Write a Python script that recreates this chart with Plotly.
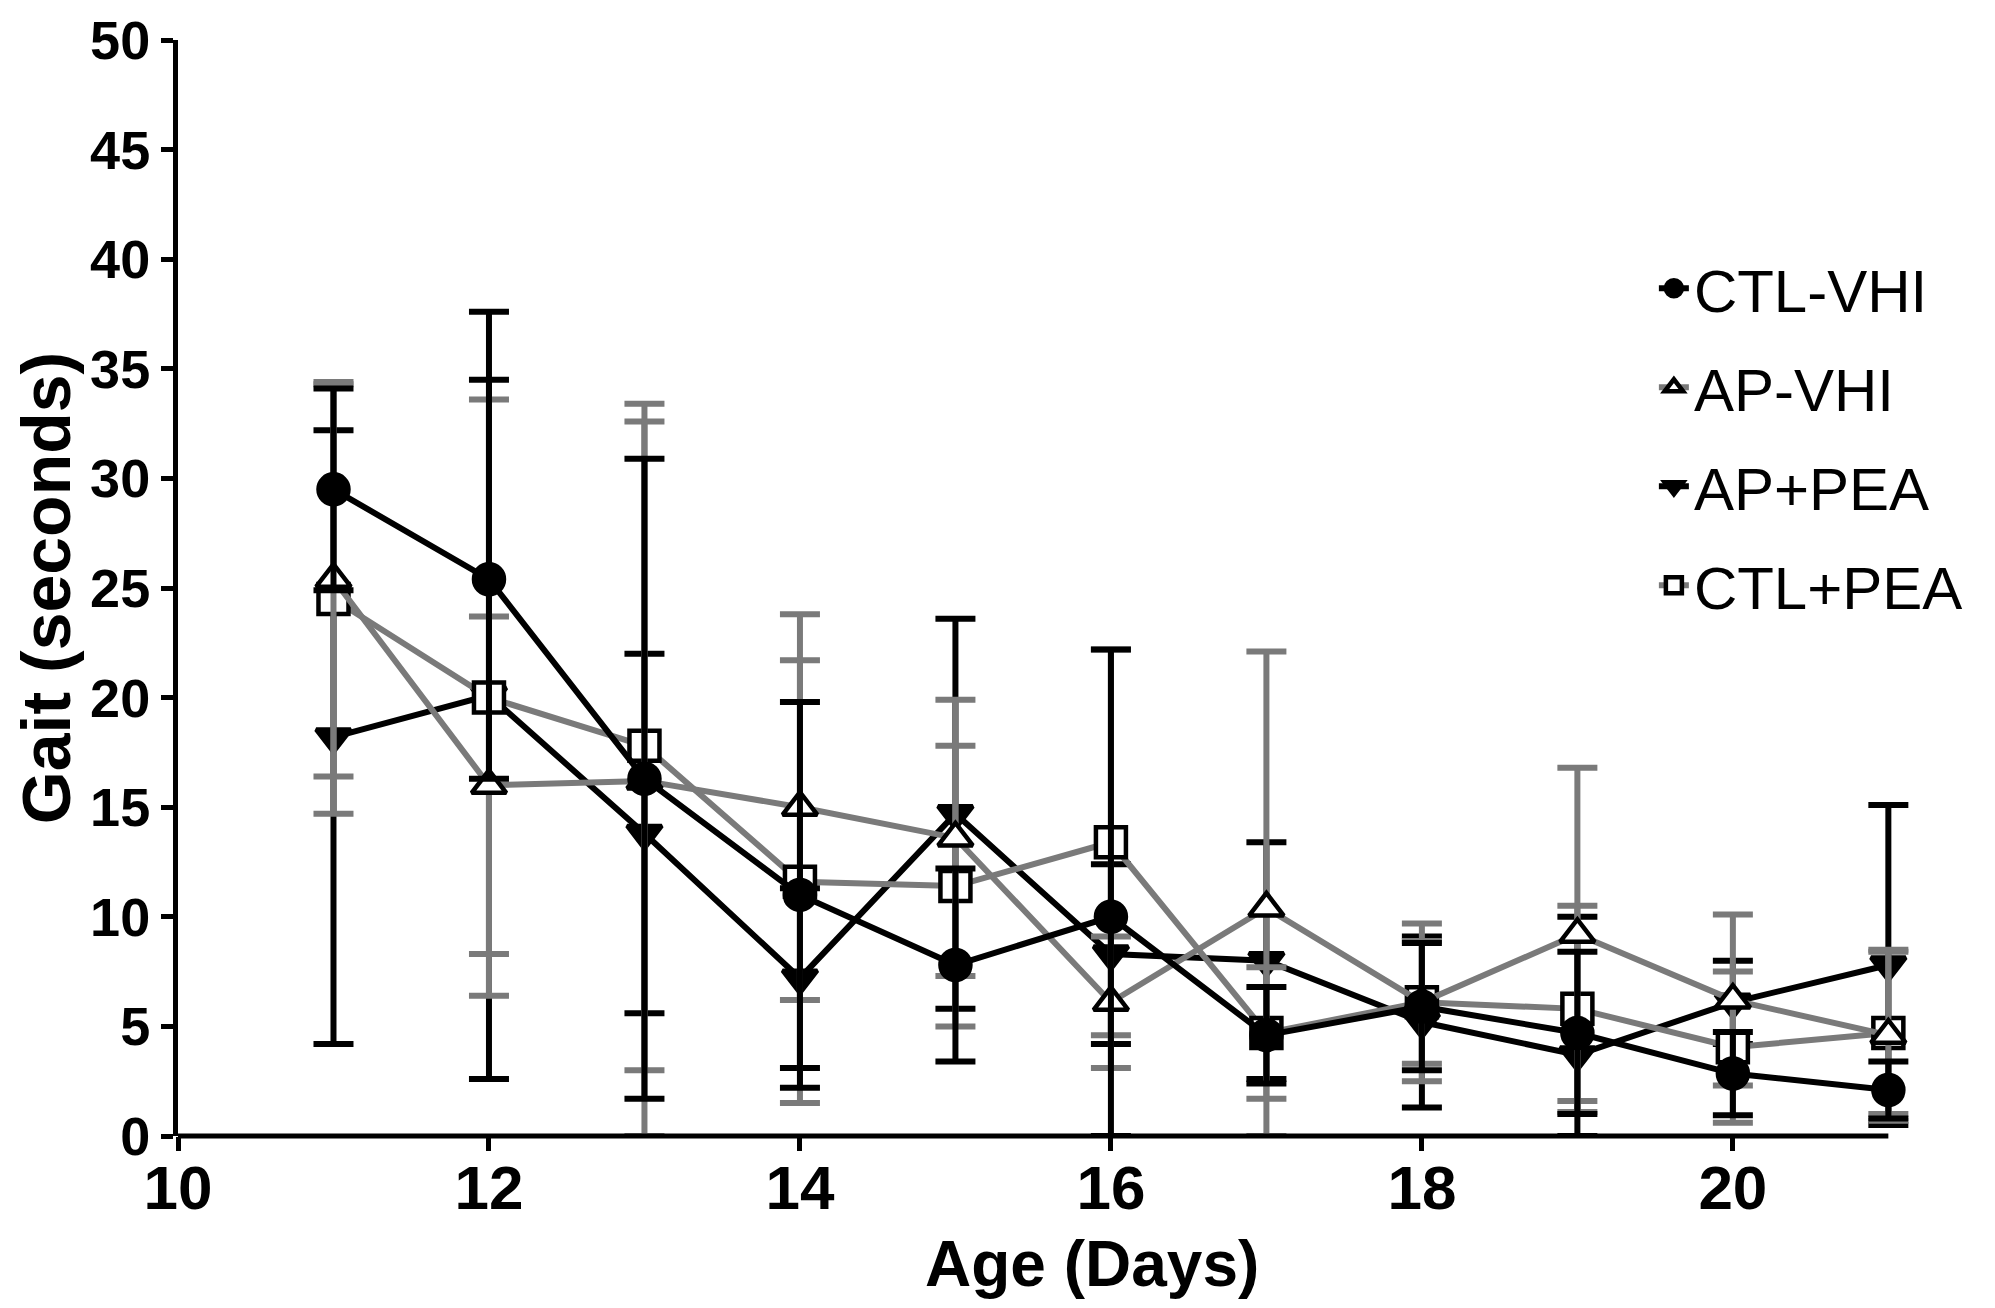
import plotly.graph_objects as go

# Age in days
days = [11, 12, 13, 14, 15, 16, 17, 18, 19, 20, 21]

# mean gait time (seconds) and error
ctl_vhi = [29.5, 25.4, 16.3, 11.0, 7.8, 10.0, 4.6, 5.9, 4.7, 2.85, 2.1]
ctl_vhi_err = [4.6, 9.1, 14.6, 8.8, 4.4, 12.2, 2.2, 2.9, 3.7, 1.9, 1.3]

ap_vhi = [25.4, 16.0, 16.2, 15.0, 13.6, 6.1, 10.4, 6.1, 9.2, 6.2, 4.6]
ap_vhi_err = [9.0, 7.7, 17.2, 8.8, 6.3, 3.0, 11.7, 3.6, 7.6, 3.9, 3.9]

ap_pea = [18.2, 20.1, 13.8, 7.2, 14.7, 8.3, 8.0, 5.2, 3.7, 6.1, 7.8]
ap_pea_err = [14.0, 17.5, 8.2, 4.1, 8.9, 4.1, 5.4, 3.9, 6.3, 1.9, 7.3]

ctl_pea = [24.5, 20.0, 17.8, 11.6, 11.4, 13.4, 4.7, 6.1, 5.8, 4.05, 4.7]
ctl_pea_err = [9.8, 13.6, 14.8, 10.1, 6.4, 8.8, 3.0, 2.8, 4.7, 3.45, 3.7]

x_ticks = [10, 12, 14, 16, 18, 20]

BLACK = '#000000'
GREY = '#7a7a7a'
FONT = 'Liberation Sans, Arial, sans-serif'


def series(name, y, err, line_color, symbol, fill, rank):
    # bars stop at the x axis like in the original (Prism cuts them at 0)
    minus = [min(e, v) for e, v in zip(err, y)]
    return go.Scatter(
        x=days, y=y, name=name, mode='lines+markers',
        line=dict(color=line_color, width=6),
        marker=dict(symbol=symbol, size=30, color=fill,
                    line=dict(color=BLACK, width=4.5)),
        error_y=dict(type='data', symmetric=False, array=err, arrayminus=minus,
                     color=line_color, thickness=6, width=20),
        cliponaxis=False,
        legendgroup=name,
        legendrank=rank,
    )


fig = go.Figure()
# drawing order: black circles end up on top like in the figure
fig.add_trace(series('AP+PEA', ap_pea, ap_pea_err, BLACK, 'triangle-down', BLACK, 3))
fig.add_trace(series('CTL+PEA', ctl_pea, ctl_pea_err, GREY, 'square', 'white', 4))
fig.add_trace(series('AP-VHI', ap_vhi, ap_vhi_err, GREY, 'triangle-up', 'white', 2))
fig.add_trace(series('CTL-VHI', ctl_vhi, ctl_vhi_err, BLACK, 'circle', BLACK, 1))

# page body has an 8px margin, so the figure is 8px smaller than the window
fig.update_layout(
    width=1987, height=1300,
    margin=dict(l=170, r=60, t=32, b=172),
    plot_bgcolor='white', paper_bgcolor='white',
    font=dict(family=FONT, color=BLACK),
    showlegend=True,
    legend=dict(x=0.84, y=0.815, xanchor='left', yanchor='top',
                font=dict(size=60, family=FONT, color=BLACK),
                tracegroupgap=18, bgcolor='rgba(0,0,0,0)'),
    xaxis=dict(
        # a little room on the right so the day-21 error bars are not cut
        range=[10, 21.3], tickmode='array', tickvals=x_ticks,
        showgrid=False, zeroline=False, showline=False, automargin=False,
        ticks='outside', ticklen=14, tickwidth=5, tickcolor=BLACK,
        ticklabelstandoff=-16,
        tickfont=dict(size=62, family=FONT, weight='bold'),
    ),
    yaxis=dict(
        range=[0, 50], tickmode='linear', tick0=0, dtick=5,
        showgrid=False, zeroline=False, showline=True, linecolor=BLACK, linewidth=5,
        ticks='outside', ticklen=12, tickwidth=5, tickcolor=BLACK,
        automargin=False, ticklabeloverflow='allow',
        tickfont=dict(size=54, family=FONT, weight='bold'),
        title=dict(text='Gait (seconds)', standoff=28,
                   font=dict(size=68, family=FONT, weight='bold')),
    ),
    # x axis line only runs from 10 to 21, as in the original
    shapes=[dict(type='line', xref='x', yref='paper', x0=x_ticks[0], x1=days[-1],
                 y0=0, y1=0, line=dict(color=BLACK, width=5), layer='above')],
    annotations=[dict(
        text='Age (Days)', xref='paper', yref='paper', x=0.52, y=-0.082,
        xanchor='center', yanchor='top', showarrow=False,
        font=dict(size=64, family=FONT, weight='bold'),
    )],
)

fig.write_html("out.html")
